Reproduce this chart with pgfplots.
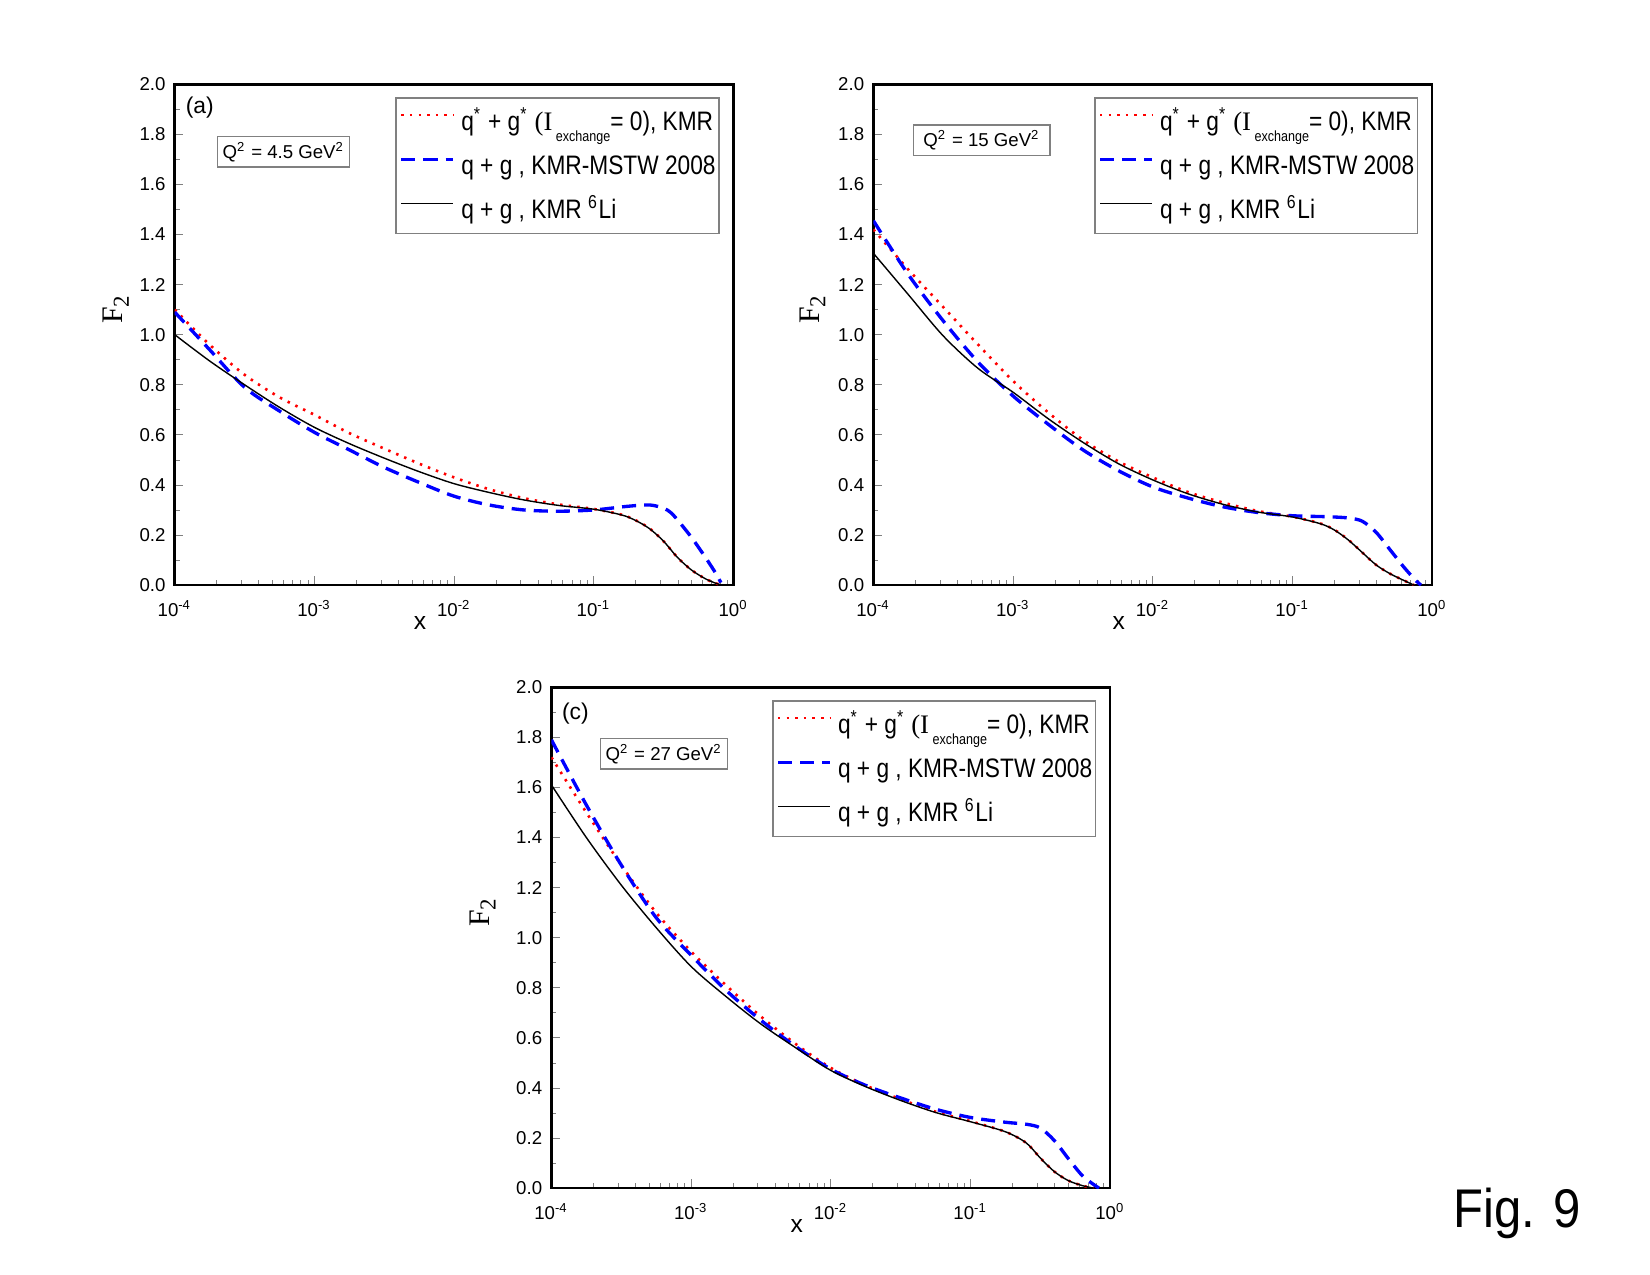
\documentclass[border=0pt]{standalone}
\usepackage{fontspec}
\setmainfont{Liberation Sans}
\newfontfamily\legfont{Liberation Sans}[FakeStretch=0.85]
\newfontfamily\figfont{Liberation Sans}[FakeStretch=0.9]
\newfontfamily\tnr{Liberation Serif}
\usepackage{pgfplots}
\pgfplotsset{compat=1.18}

\newcommand{\lgA}{q\textsuperscript{*} + g\textsuperscript{*} {\tnr (I}\raisebox{-0.8ex}{\fontsize{4.2}{5}\selectfont\ exchange}= 0), KMR}
\newcommand{\lgB}{q + g , KMR-MSTW 2008}
\newcommand{\lgC}{q + g , KMR \textsuperscript{6}Li}

\pgfplotsset{
  every axis/.append style={
    scale only axis, width=55.88mm, height=50.09mm,
    xmin=1e-4, xmax=1, ymin=0, ymax=2,
    axis line style={line width=0.75pt, black},
    tick align=inside, xtick pos=bottom, ytick pos=left,
    major tick length=2.5pt, minor tick length=1.4pt,
    xtick={1e-4,1e-3,1e-2,1e-1,1},
    xticklabels={10\textsuperscript{-4},10\textsuperscript{-3},10\textsuperscript{-2},10\textsuperscript{-1},10\textsuperscript{0}},
    minor xtick={2e-4,3e-4,4e-4,5e-4,6e-4,7e-4,8e-4,9e-4,
                 2e-3,3e-3,4e-3,5e-3,6e-3,7e-3,8e-3,9e-3,
                 2e-2,3e-2,4e-2,5e-2,6e-2,7e-2,8e-2,9e-2,
                 0.2,0.3,0.4,0.5,0.6,0.7,0.8,0.9},
    ytick={0,0.2,0.4,0.6,0.8,1.0,1.2,1.4,1.6,1.8,2.0},
    yticklabels={0.0,0.2,0.4,0.6,0.8,1.0,1.2,1.4,1.6,1.8,2.0},
    minor ytick={0.1,0.3,0.5,0.7,0.9,1.1,1.3,1.5,1.7,1.9},
    tick label style={font=\fontsize{5.3}{6}\selectfont},
    xticklabel style={yshift=-0.9pt},
    yticklabel style={xshift=0.9pt},
    xlabel={x},
    xlabel style={font=\fontsize{7}{8}\selectfont, at={(axis description cs:0.439,-0.075)}, anchor=center},
    ylabel={\tnr F\raisebox{-0.45ex}{\fontsize{6.5}{7}\selectfont 2}},
    ylabel style={font=\fontsize{8.5}{9}\selectfont, anchor=center},
    legend cell align=left,
    legend style={at={(rel axis cs:1,1)}, anchor=north east, xshift=-1.37mm, yshift=-1.3mm,
      draw=gray, line width=0.4pt, fill=white,
      font=\legfont\fontsize{7.6}{8}\selectfont,
      inner xsep=1.0pt, inner ysep=2.2pt, row sep=3.6pt, column sep=1.8pt,
      nodes={inner sep=0pt, text height=7pt, text depth=2pt}},
  },
  legend image code/.code={\draw[#1] (0mm,0.65mm) -- (5.2mm,0.65mm);},
}

\begin{document}
\begin{tikzpicture}
\useasboundingbox (0,0) rectangle (165mm,127.5mm);

% ---------------- panel (a) ----------------
\begin{semilogxaxis}[at={(17.47mm,68.99mm)}, anchor=south west,
  ylabel style={at={(axis description cs:-0.105,0.55)}}]
\addplot[red, line width=0.75pt, dash pattern=on 0.7pt off 1.75pt, smooth] coordinates {
(1e-4,1.10) (1.778e-4,0.96) (3.162e-4,0.84) (5.623e-4,0.75) (1e-3,0.68)
(1.778e-3,0.607) (3.162e-3,0.545) (5.623e-3,0.485) (1e-2,0.43) (1.778e-2,0.383)
(3.162e-2,0.347) (5.623e-2,0.322) (0.1,0.304) (0.1585,0.281) (0.1995,0.259)
(0.2512,0.226) (0.3162,0.175) (0.3981,0.11) (0.5012,0.06) (0.631,0.025)
(0.7586,0.006) (0.8318,0.0)};
\addlegendentry{\lgA}
\addplot[blue, line width=0.95pt, dash pattern=on 4pt off 2.3pt, smooth] coordinates {
(1e-4,1.09) (1.778e-4,0.94) (3.162e-4,0.79) (5.623e-4,0.695) (1e-3,0.61)
(1.778e-3,0.54) (3.162e-3,0.47) (5.623e-3,0.41) (1e-2,0.355) (1.778e-2,0.32)
(3.162e-2,0.30) (5.623e-2,0.295) (0.1,0.30) (0.1778,0.315) (0.2512,0.32)
(0.3162,0.307) (0.3548,0.29) (0.3981,0.26) (0.5012,0.19) (0.631,0.11)
(0.7413,0.05) (0.8128,0.01)};
\addlegendentry{\lgB}
\addplot[black, line width=0.4pt, smooth] coordinates {
(1e-4,1.00) (1.778e-4,0.895) (3.162e-4,0.80) (5.623e-4,0.71) (1e-3,0.63)
(1.778e-3,0.565) (3.162e-3,0.507) (5.623e-3,0.453) (1e-2,0.405) (1.778e-2,0.37)
(3.162e-2,0.34) (5.623e-2,0.318) (0.1,0.303) (0.1585,0.28) (0.1995,0.258)
(0.2512,0.225) (0.3162,0.175) (0.3981,0.11) (0.5012,0.06) (0.631,0.025)
(0.7586,0.006) (0.8318,0.0)};
\addlegendentry{\lgC}
\node[font=\fontsize{6.5}{7}\selectfont] at (rel axis cs:0.045,0.954) {(a)};
\node[draw=gray, line width=0.4pt, fill=white, inner xsep=1.4pt, inner ysep=0.5pt, minimum height=8.7pt,
  font=\fontsize{5.3}{6}\selectfont] at (rel axis cs:0.195,0.865)
  {Q\textsuperscript{2} = 4.5 GeV\textsuperscript{2}};
\end{semilogxaxis}

% ---------------- panel (b) ----------------
\begin{semilogxaxis}[at={(87.34mm,68.99mm)}, anchor=south west,
  ylabel style={at={(axis description cs:-0.109,0.55)}}]
\addplot[red, line width=0.75pt, dash pattern=on 0.7pt off 1.75pt, smooth] coordinates {
(1e-4,1.42) (1.778e-4,1.26) (3.162e-4,1.11) (5.623e-4,0.96) (1e-3,0.815)
(1.778e-3,0.69) (3.162e-3,0.58) (5.623e-3,0.495) (1e-2,0.43) (1.778e-2,0.372)
(3.162e-2,0.33) (5.623e-2,0.296) (0.1,0.273) (0.1585,0.246) (0.1995,0.221)
(0.2512,0.181) (0.3162,0.13) (0.3981,0.08) (0.5012,0.045) (0.631,0.018)
(0.7413,0.0)};
\addlegendentry{\lgA}
\addplot[blue, line width=0.95pt, dash pattern=on 4pt off 2.3pt, smooth] coordinates {
(1e-4,1.455) (1.778e-4,1.24) (3.162e-4,1.055) (5.623e-4,0.89) (1e-3,0.755)
(1.778e-3,0.643) (3.162e-3,0.54) (5.623e-3,0.458) (1e-2,0.392) (1.778e-2,0.348)
(3.162e-2,0.313) (5.623e-2,0.29) (0.1,0.277) (0.1778,0.273) (0.2512,0.268)
(0.3162,0.255) (0.3981,0.21) (0.5012,0.14) (0.631,0.07) (0.7586,0.02)
(0.8318,0.0)};
\addlegendentry{\lgB}
\addplot[black, line width=0.4pt, smooth] coordinates {
(1e-4,1.325) (1.778e-4,1.16) (3.162e-4,0.995) (5.623e-4,0.865) (1e-3,0.77)
(1.778e-3,0.665) (3.162e-3,0.57) (5.623e-3,0.486) (1e-2,0.42) (1.778e-2,0.365)
(3.162e-2,0.323) (5.623e-2,0.292) (0.1,0.272) (0.1585,0.245) (0.1995,0.22)
(0.2512,0.18) (0.3162,0.13) (0.3981,0.08) (0.5012,0.045) (0.631,0.018)
(0.7413,0.0)};
\addlegendentry{\lgC}
\node[draw=gray, line width=0.4pt, fill=white, inner xsep=2.75pt, inner ysep=0.5pt, minimum height=8.7pt,
  font=\fontsize{5.3}{6}\selectfont] at (rel axis cs:0.194,0.888)
  {Q\textsuperscript{2} = 15 GeV\textsuperscript{2}};
\end{semilogxaxis}

% ---------------- panel (c) ----------------
\begin{semilogxaxis}[at={(55.14mm,8.69mm)}, anchor=south west,
  ylabel style={at={(axis description cs:-0.123,0.55)}}]
\addplot[red, line width=0.75pt, dash pattern=on 0.7pt off 1.75pt, smooth] coordinates {
(1e-4,1.72) (1.778e-4,1.50) (3.162e-4,1.29) (5.623e-4,1.10) (1e-3,0.945)
(1.778e-3,0.81) (3.162e-3,0.685) (5.623e-3,0.575) (1e-2,0.48) (1.778e-2,0.41)
(3.162e-2,0.355) (5.623e-2,0.305) (0.1,0.267) (0.1778,0.225) (0.2512,0.18)
(0.3162,0.12) (0.3981,0.066) (0.5012,0.03) (0.631,0.01) (0.7586,0.0)};
\addlegendentry{\lgA}
\addplot[blue, line width=0.95pt, dash pattern=on 4pt off 2.3pt, smooth] coordinates {
(1e-4,1.79) (1.778e-4,1.53) (3.162e-4,1.29) (5.623e-4,1.08) (1e-3,0.93)
(1.778e-3,0.79) (3.162e-3,0.67) (5.623e-3,0.565) (1e-2,0.475) (1.778e-2,0.41)
(3.162e-2,0.36) (5.623e-2,0.315) (0.1,0.282) (0.1778,0.263) (0.2512,0.255)
(0.3162,0.24) (0.3981,0.19) (0.5012,0.118) (0.631,0.05) (0.7586,0.015)
(0.8318,0.0)};
\addlegendentry{\lgB}
\addplot[black, line width=0.4pt, smooth] coordinates {
(1e-4,1.61) (1.778e-4,1.40) (3.162e-4,1.21) (5.623e-4,1.04) (1e-3,0.885)
(1.778e-3,0.765) (3.162e-3,0.655) (5.623e-3,0.56) (1e-2,0.47) (1.778e-2,0.405)
(3.162e-2,0.35) (5.623e-2,0.302) (0.1,0.265) (0.1778,0.225) (0.2512,0.18)
(0.3162,0.12) (0.3981,0.066) (0.5012,0.03) (0.631,0.01) (0.7586,0.0)};
\addlegendentry{\lgC}
\node[font=\fontsize{6.5}{7}\selectfont] at (rel axis cs:0.043,0.9475) {(c)};
\node[draw=gray, line width=0.4pt, fill=white, inner xsep=1.4pt, inner ysep=0.5pt, minimum height=8.7pt,
  font=\fontsize{5.3}{6}\selectfont] at (rel axis cs:0.2015,0.867)
  {Q\textsuperscript{2} = 27 GeV\textsuperscript{2}};
\end{semilogxaxis}

\node[anchor=base west, inner sep=0pt, font=\figfont\fontsize{15.5}{17}\selectfont] at (145.3mm,4.8mm) {Fig. 9};
\end{tikzpicture}
\end{document}
